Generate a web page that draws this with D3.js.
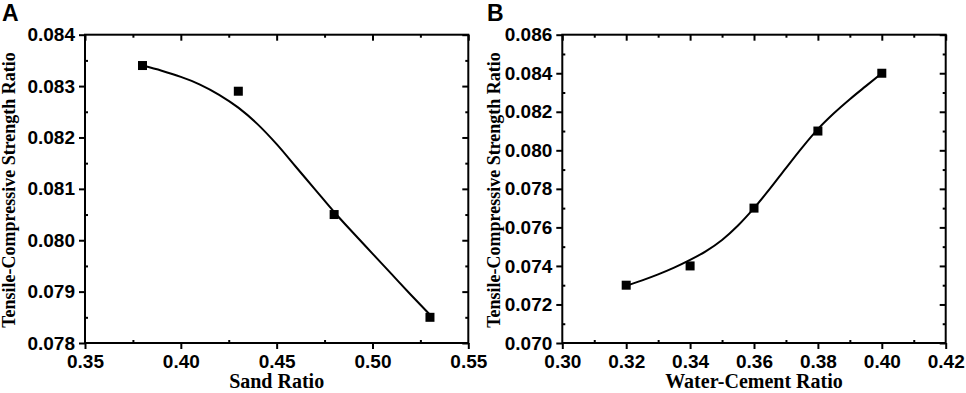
<!DOCTYPE html>
<html>
<head>
<meta charset="utf-8">
<script src="https://cdn.jsdelivr.net/npm/d3@7"></script>
<style>
  html, body { margin: 0; padding: 0; background: #fff; }
  svg { display: block; }
  .tick-label { font-family: "Liberation Sans", Arial, sans-serif; font-weight: bold; font-size: 19px; fill: #000; }
  .axis-title { font-family: "Liberation Serif", "Times New Roman", serif; font-weight: bold; fill: #000; }
  .panel-tag { font-family: "Liberation Sans", Arial, sans-serif; font-weight: bold; font-size: 23px; fill: #000; }
</style>
</head>
<body>
<svg id="chart" width="966" height="393"></svg>
<script>
// ---- panel A: sand ratio ----
const sandRatio = [0.38, 0.43, 0.48, 0.53];
const sandTcRatio = [0.0834, 0.0829, 0.0805, 0.0785];
// fitted curve
const sandFitX = [0.38, 0.39, 0.40, 0.41, 0.42, 0.43, 0.44, 0.45, 0.46, 0.47, 0.48, 0.49, 0.50, 0.51, 0.52, 0.53];
const sandFitY = [0.08340, 0.08330, 0.08318, 0.08303, 0.08283, 0.08258, 0.08226, 0.08187,
                  0.08143, 0.08099, 0.08055, 0.08014, 0.07974, 0.07934, 0.07894, 0.07855];
const sandXTicks = [0.35, 0.40, 0.45, 0.50, 0.55];
const sandYTicks = [0.078, 0.079, 0.080, 0.081, 0.082, 0.083, 0.084];

// ---- panel B: water-cement ratio ----
const wcRatio = [0.32, 0.34, 0.36, 0.38, 0.40];
const wcTcRatio = [0.073, 0.074, 0.077, 0.081, 0.084];
const wcFitX = [0.320, 0.325, 0.330, 0.335, 0.340, 0.345, 0.350, 0.355, 0.360,
                0.365, 0.370, 0.375, 0.380, 0.385, 0.390, 0.395, 0.400];
const wcFitY = [0.07297, 0.07325, 0.07356, 0.07391, 0.07431, 0.07477, 0.07535, 0.07610, 0.07700,
                0.07801, 0.07908, 0.08013, 0.08110, 0.08192, 0.08265, 0.08333, 0.08400];
const wcXTicks = [0.30, 0.32, 0.34, 0.36, 0.38, 0.40, 0.42];
const wcYTicks = [0.070, 0.072, 0.074, 0.076, 0.078, 0.080, 0.082, 0.084, 0.086];

const svg = d3.select("#chart");

// midpoints between major ticks
function minorOf(ticks) {
  const out = [];
  for (let i = 0; i < ticks.length - 1; i++) out.push((ticks[i] + ticks[i + 1]) / 2);
  return out;
}

function drawPanel(cfg) {
  const { left, top, width, height } = cfg;
  const g = svg.append("g").attr("transform", `translate(${left},${top})`);

  const x = d3.scaleLinear()
    .domain([cfg.xTicks[0], cfg.xTicks[cfg.xTicks.length - 1]])
    .range([0, width]);
  const y = d3.scaleLinear()
    .domain([cfg.yTicks[0], cfg.yTicks[cfg.yTicks.length - 1]])
    .range([height, 0]);

  const xMinor = minorOf(cfg.xTicks);
  const yMinor = minorOf(cfg.yTicks);

  const styleAxis = (sel) => {
    sel.select(".domain").remove();
    sel.selectAll(".tick line").attr("stroke", "#000").attr("stroke-width", 2);
  };
  const styleLabels = (sel) => sel.selectAll("text")
    .attr("class", "tick-label").attr("font-size", null).attr("font-family", null);

  // bottom: major out, minor in
  g.append("g").attr("transform", `translate(0,${height})`)
    .call(d3.axisBottom(x).tickValues(cfg.xTicks).tickSize(6).tickPadding(6).tickFormat(d3.format(".2f")))
    .call(styleAxis)
    .call(styleLabels);
  g.append("g").attr("transform", `translate(0,${height})`)
    .call(d3.axisBottom(x).tickValues(xMinor).tickSize(-3).tickFormat(""))
    .call(styleAxis);

  // left: major out, minor in
  g.append("g")
    .call(d3.axisLeft(y).tickValues(cfg.yTicks).tickSize(6).tickPadding(4).tickFormat(d3.format(".3f")))
    .call(styleAxis)
    .call(styleLabels);
  g.append("g")
    .call(d3.axisLeft(y).tickValues(yMinor).tickSize(-3).tickFormat(""))
    .call(styleAxis);

  // top and right: ticks inward
  g.append("g")
    .call(d3.axisTop(x).tickValues(cfg.xTicks).tickSize(-6).tickFormat(""))
    .call(styleAxis);
  g.append("g")
    .call(d3.axisTop(x).tickValues(xMinor).tickSize(-3).tickFormat(""))
    .call(styleAxis);
  g.append("g").attr("transform", `translate(${width},0)`)
    .call(d3.axisRight(y).tickValues(cfg.yTicks).tickSize(-6).tickFormat(""))
    .call(styleAxis);
  g.append("g").attr("transform", `translate(${width},0)`)
    .call(d3.axisRight(y).tickValues(yMinor).tickSize(-3).tickFormat(""))
    .call(styleAxis);

  // frame
  g.append("rect")
    .attr("width", width).attr("height", height)
    .attr("fill", "none").attr("stroke", "#000").attr("stroke-width", 2);

  // fitted curve
  const fit = cfg.fitX.map((v, i) => [v, cfg.fitY[i]]);
  g.append("path")
    .datum(fit)
    .attr("fill", "none")
    .attr("stroke", "#000")
    .attr("stroke-width", 2)
    .attr("d", d3.line().x(d => x(d[0])).y(d => y(d[1])).curve(d3.curveMonotoneX));

  // markers
  const pts = cfg.xs.map((v, i) => [v, cfg.ys[i]]);
  g.selectAll(".pt").data(pts).enter().append("rect")
    .attr("class", "pt")
    .attr("x", d => x(d[0]) - 4.5)
    .attr("y", d => y(d[1]) - 4.5)
    .attr("width", 9).attr("height", 9)
    .attr("fill", "#000");

  // axis titles
  g.append("text")
    .attr("class", "axis-title")
    .attr("font-size", 20)
    .attr("text-anchor", "middle")
    .attr("x", width / 2)
    .attr("y", height + 45.5)
    .text(cfg.xTitle);

  g.append("text")
    .attr("class", "axis-title")
    .attr("font-size", 18)
    .attr("text-anchor", "middle")
    .attr("transform", `translate(${cfg.yTitleX - left},${190 - top}) rotate(-90)`)
    .text(cfg.yTitle);

  svg.append("text")
    .attr("class", "panel-tag")
    .attr("x", cfg.tagX)
    .attr("y", 21)
    .text(cfg.tag);
}

drawPanel({
  left: 85, top: 34.7, width: 383.3, height: 308.3,
  xTicks: sandXTicks, yTicks: sandYTicks,
  xs: sandRatio, ys: sandTcRatio,
  fitX: sandFitX, fitY: sandFitY,
  xTitle: "Sand Ratio",
  yTitle: "Tensile-Compressive Strength Ratio",
  yTitleX: 15,
  tag: "A", tagX: 2
});

drawPanel({
  left: 562.3, top: 34.7, width: 383.4, height: 308.3,
  xTicks: wcXTicks, yTicks: wcYTicks,
  xs: wcRatio, ys: wcTcRatio,
  fitX: wcFitX, fitY: wcFitY,
  xTitle: "Water-Cement Ratio",
  yTitle: "Tensile-Compressive Strength Ratio",
  yTitleX: 499.5,
  tag: "B", tagX: 487
});
</script>
</body>
</html>
